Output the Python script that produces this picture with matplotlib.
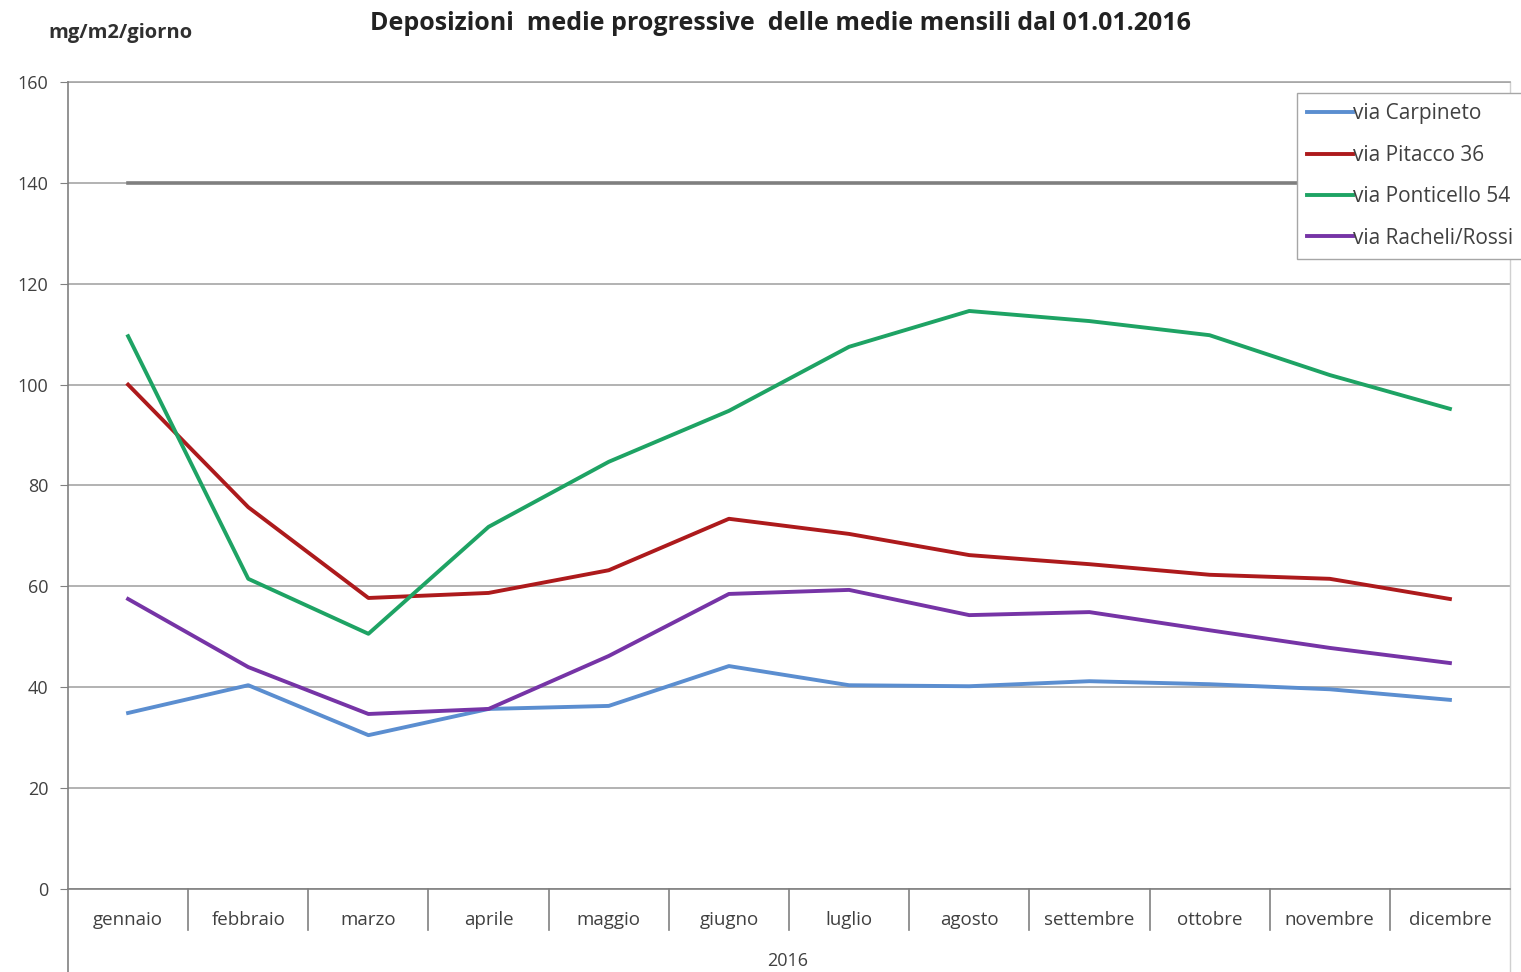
import matplotlib
matplotlib.use("Agg")
import matplotlib.pyplot as plt
from matplotlib.lines import Line2D
import matplotlib.transforms as mtransforms

plt.rcParams['font.family'] = ['Open Sans', 'DejaVu Sans']

months = ["gennaio", "febbraio", "marzo", "aprile", "maggio", "giugno",
          "luglio", "agosto", "settembre", "ottobre", "novembre", "dicembre"]
carpineto = [34.9, 40.4, 30.5, 35.7, 36.3, 44.2, 40.4, 40.2, 41.2, 40.6, 39.6, 37.5]
pitacco = [100.0, 75.7, 57.7, 58.7, 63.2, 73.4, 70.4, 66.2, 64.4, 62.3, 61.5, 57.5]
ponticello = [109.6, 61.5, 50.6, 71.8, 84.7, 94.8, 107.5, 114.6, 112.6, 109.8, 101.9, 95.2]
racheli = [57.5, 44.0, 34.7, 35.7, 46.2, 58.5, 59.3, 54.3, 54.9, 51.3, 47.8, 44.8]
limit = [140] * 12
series_names = ["via Carpineto", "via Pitacco 36", "via Ponticello 54", "via Racheli/Rossi"]
yticks = [0, 20, 40, 60, 80, 100, 120, 140, 160]
title = "Deposizioni  medie progressive  delle medie mensili dal 01.01.2016"
ylabel = "mg/m2/giorno"
year = "2016"

W, H = 1521, 972
fig = plt.figure(figsize=(W / 100, H / 100), dpi=100)
ax = fig.add_axes([68 / W, 1 - 889 / H, (1510 - 68) / W, (889 - 82) / H])

x = list(range(len(months)))
ax.plot(x, limit, color="#7f7f7f", lw=2.6, zorder=2)
colors = ["#5b8ed0", "#ad1a1c", "#1ea364", "#7634a6"]
for vals, c, n in zip([carpineto, pitacco, ponticello, racheli], colors, series_names):
    ax.plot(x, vals, color=c, lw=2.8, label=n, zorder=3)

ax.set_xlim(-0.5, 11.5)
ax.set_ylim(0, 160)
ax.set_yticks(yticks)
ax.set_yticklabels([str(v) for v in yticks], fontsize=13, color="#404040")
ax.set_xticks(x)
ax.set_xticklabels(months, fontsize=13.5, color="#404040")
ax.tick_params(axis="x", length=0, pad=16)
ax.tick_params(axis="y", length=6, color="#808080", pad=8)
ax.yaxis.grid(True, color="#a6a6a6", lw=1.2)
ax.set_axisbelow(True)
for s in ["top", "right"]:
    ax.spines[s].set_visible(False)
ax.spines["left"].set_color("#808080")
ax.spines["bottom"].set_color("#808080")
ax.spines["left"].set_linewidth(1.2)
ax.spines["bottom"].set_linewidth(1.2)

# category separators
trans = mtransforms.blended_transform_factory(ax.transData, ax.transAxes)
sep_h = (930 - 889) / (889 - 82)
for b in [i + 0.5 for i in range(len(months) - 1)]:
    ax.add_line(Line2D([b, b], [0, -sep_h], transform=trans, color="#808080", lw=1.2, clip_on=False))
# left axis extension
ax.add_line(Line2D([0, 0], [0, -(972 - 889) / (889 - 82)], transform=ax.transAxes,
                   color="#808080", lw=1.2, clip_on=False))
# right light border
ax.add_line(Line2D([1, 1], [1, -(972 - 889) / (889 - 82)], transform=ax.transAxes,
                   color="#d0d0d0", lw=1.0, clip_on=False))
ax.add_line(Line2D([0, 1], [1, 1], transform=ax.transAxes,
                   color="#a6a6a6", lw=1.2, clip_on=False))

fig.text(788 / W, 1 - 961 / H, year, ha="center", va="center", fontsize=13, color="#404040")
fig.text(780 / W, 1 - 24 / H, title, ha="center", va="center", fontsize=18, fontweight="bold", color="#222222")
fig.text(48 / W, 1 - 33 / H, ylabel, ha="left", va="center", fontsize=14.5, fontweight="bold", color="#303030")

leg = ax.legend(loc="upper left", bbox_to_anchor=(1297 / W, 1 - 93 / H), bbox_transform=fig.transFigure,
                fontsize=15, frameon=True, fancybox=False, edgecolor="#a6a6a6", framealpha=1,
                handlelength=2.2, handletextpad=0.0, labelspacing=0.98, borderpad=0.5,
                borderaxespad=0)
leg.get_frame().set_linewidth(1.0)
for t in leg.get_texts():
    t.set_color("#404040")

fig.savefig("out.png", dpi=100)
